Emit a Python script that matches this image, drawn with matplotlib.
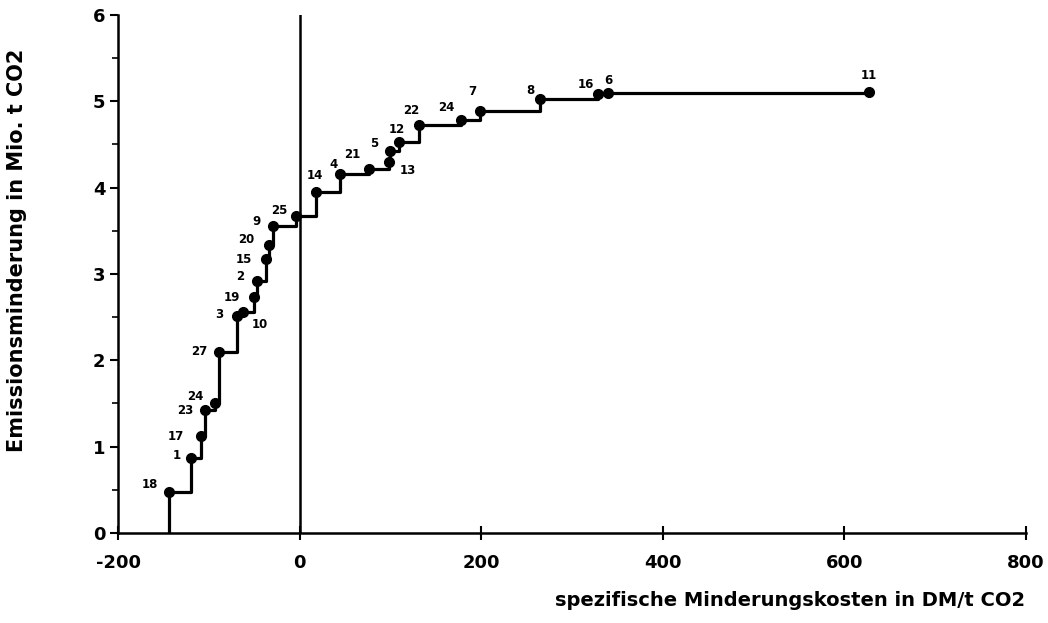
import numpy as np
import matplotlib
matplotlib.use("Agg")
import matplotlib.pyplot as plt
from matplotlib.ticker import MultipleLocator

# measure numbers, in order of rising cost
labels = ['18', '1', '17', '23', '24', '27', '3', '10', '19', '2', '15', '20', '9', '25',
          '14', '4', '21', '13', '5', '12', '22', '24', '7', '8', '16', '6', '11']
# specific abatement cost in DM/t CO2
costs = [-144, -120, -109, -104, -93, -89, -69, -62, -50, -47, -37, -34, -29, -4,
         18, 45, 76, 98, 100, 109, 131, 178, 199, 265, 329, 340, 627]
# cumulative abatement in Mio. t CO2
cumul = [0.48, 0.87, 1.12, 1.43, 1.50, 2.10, 2.51, 2.56, 2.73, 2.92, 3.17, 3.33, 3.56, 3.67,
         3.95, 4.16, 4.22, 4.30, 4.42, 4.53, 4.72, 4.78, 4.89, 5.03, 5.08, 5.10, 5.11]

# label offsets in points (dx, dy)
offsets = [(-14, 5), (-10, 2), (-18, 0), (-14, -1), (-14, 5), (-14, 0), (-13, 1), (12, -9),
           (-16, 0), (-12, 3), (-16, 0), (-16, 4), (-12, 3), (-12, 4),
           (-1, 12), (-5, 7), (-12, 10), (14, -6), (-12, 6), (-1, 9), (-5, 11), (-11, 9),
           (-6, 14), (-7, 6), (-9, 7), (0, 9), (0, 12)]

plt.rcParams['font.family'] = 'DejaVu Sans'
plt.rcParams['font.weight'] = 'bold'
plt.rcParams['axes.unicode_minus'] = False

fig = plt.figure(figsize=(10.48, 6.23), dpi=100)
ax = fig.add_axes([0.1126, 0.1445, 0.8664, 0.8315])

# vertical line at zero cost
ax.plot([0, 0], [0, 6], color='black', lw=1.8, zorder=2)

# step curve: start at zero on the first cost
xs = [costs[0]] + costs
ys = [0] + cumul
ax.plot(xs, ys, drawstyle='steps-post', color='black', lw=2.3, zorder=3)
ax.plot(costs, cumul, 'o', color='black', ms=7, zorder=4)

for lab, x, y, (dx, dy) in zip(labels, costs, cumul, offsets):
    ax.annotate(lab, (x, y), xytext=(dx, dy), textcoords='offset points',
                ha='center', va='center', fontsize=8.5, fontweight='bold')

ax.set_xlim(-200, 800)
ax.set_ylim(0, 6)
ax.set_xticks([-200, 0, 200, 400, 600, 800])
ax.set_yticks([0, 1, 2, 3, 4, 5, 6])
ax.yaxis.set_minor_locator(MultipleLocator(0.5))

for s in ['top', 'right']:
    ax.spines[s].set_visible(False)
for s in ['left', 'bottom']:
    ax.spines[s].set_linewidth(1.8)

ax.tick_params(axis='x', direction='inout', length=10, width=1.5, pad=10, labelsize=13)
ax.tick_params(axis='y', direction='out', length=6, width=1.5, pad=3, labelsize=13)
ax.tick_params(axis='y', which='minor', direction='out', length=4, width=1.2)
for t in ax.get_xticklabels() + ax.get_yticklabels():
    t.set_fontweight('bold')

ax.set_ylabel('Emissionsminderung in Mio. t CO2', fontsize=15, fontweight='bold')
ax.yaxis.set_label_coords(-0.1, 0.546)
fig.text(1025 / 1048, 1 - 600 / 623, 'spezifische Minderungskosten in DM/t CO2',
         ha='right', va='center', fontsize=14, fontweight='bold')

fig.savefig('out.png', dpi=100)
